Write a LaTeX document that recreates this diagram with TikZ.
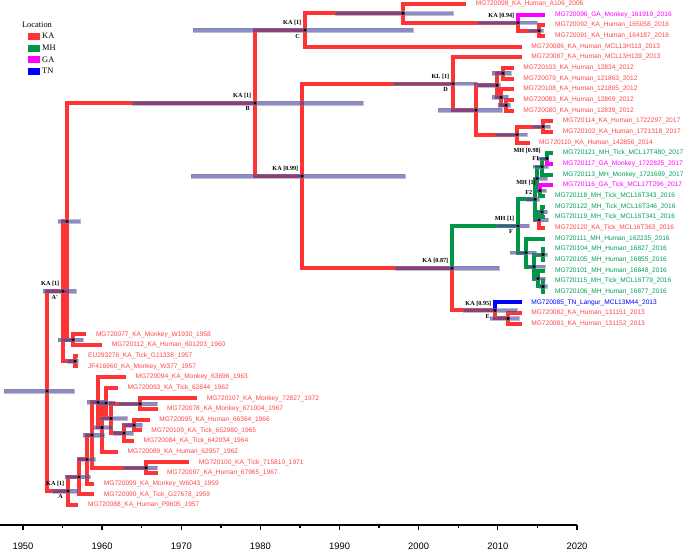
\documentclass[tikz,border=0pt]{standalone}
\usepackage{fontspec}
\newfontfamily\sansf{Liberation Sans}
\newfontfamily\serff{Liberation Serif}
\usetikzlibrary{calc}
\definecolor{kared}{RGB}{255,51,51}
\definecolor{katext}{RGB}{255,70,70}
\definecolor{mhgreen}{RGB}{0,150,72}
\definecolor{mhtext}{RGB}{0,160,90}
\definecolor{gamag}{RGB}{255,0,255}
\definecolor{tnblue}{RGB}{0,0,255}
\definecolor{hpdblue}{RGB}{70,70,175}
\newcommand\tipnode[5]{\coordinate (#1) at (#2,#3);\node[tiplab,text=#4] (#1l) at ([xshift=9.5pt]#1) {#5};}
\newcommand\brn[3]{\draw[#1] (#2) |- (#3);}
\newcommand\hpdbar[3]{\path[hpd] let \p1=(#1) in (#2pt,\y1-1.8pt) rectangle (#3pt,\y1+1.8pt);}
\newcommand\ndot[1]{\fill (#1) circle (1.6pt);}
\newcommand\suplabel[2]{\node[suplab] (#1s) at ([xshift=-3.5pt,yshift=7pt]#1) {#2};}
\newcommand\namelabel[2]{\node[suplab] (#1n) at ([xshift=-5pt,yshift=-6pt]#1) {#2};}
\begin{document}
\begin{tikzpicture}[x=1pt,y=-1pt,
  br/.style={line width=4pt,line join=miter},
  kab/.style={br,draw=kared},
  mhb/.style={br,draw=mhgreen},
  gab/.style={br,draw=gamag},
  tnb/.style={br,draw=tnblue},
  hpd/.style={fill=hpdblue,fill opacity=0.62,draw=gray,draw opacity=0.5,line width=0.4pt},
  tiplab/.style={anchor=west,inner sep=0pt,font=\sansf\fontsize{6.6}{7}\selectfont},
  suplab/.style={anchor=east,inner sep=0pt,font=\serff\bfseries\fontsize{6.2}{7}\selectfont},
  yearlab/.style={inner sep=0pt,font=\sansf\fontsize{9.4}{10}\selectfont},
  leglab/.style={anchor=west,inner sep=0pt,font=\serff\fontsize{8.4}{9}\selectfont}]
\useasboundingbox (0,0) rectangle (685,550);

% ---------- tips ----------
\tipnode{t0}{466.2}{4.0}{katext}{MG720098\_KA\_Human\_A106\_2006}
\tipnode{t1}{545.3}{14.66}{gamag}{MG720096\_GA\_Monkey\_161919\_2016}
\tipnode{t2}{545.3}{25.32}{katext}{MG720092\_KA\_Human\_165058\_2016}
\tipnode{t3}{545.3}{35.98}{katext}{MG720091\_KA\_Human\_164187\_2016}
\tipnode{t4}{521.6}{46.64}{katext}{MG720086\_KA\_Human\_MCL13H113\_2013}
\tipnode{t5}{521.6}{57.3}{katext}{MG720087\_KA\_Human\_MCL13H139\_2013}
\tipnode{t6}{513.7}{67.96}{katext}{MG720103\_KA\_Human\_12834\_2012}
\tipnode{t7}{513.7}{78.62}{katext}{MG720079\_KA\_Human\_121863\_2012}
\tipnode{t8}{513.7}{89.28}{katext}{MG720108\_KA\_Human\_121865\_2012}
\tipnode{t9}{513.7}{99.94}{katext}{MG720083\_KA\_Human\_12869\_2012}
\tipnode{t10}{513.7}{110.6}{katext}{MG720080\_KA\_Human\_12839\_2012}
\tipnode{t11}{553.2}{121.26}{katext}{MG720114\_KA\_Human\_1722297\_2017}
\tipnode{t12}{553.2}{131.92}{katext}{MG720102\_KA\_Human\_1721318\_2017}
\tipnode{t13}{529.5}{142.58}{katext}{MG720110\_KA\_Human\_142856\_2014}
\tipnode{t14}{553.2}{153.24}{mhtext}{MG720121\_MH\_Tick\_MCL17T480\_2017}
\tipnode{t15}{553.2}{163.9}{gamag}{MG720117\_GA\_Monkey\_1722825\_2017}
\tipnode{t16}{553.2}{174.56}{mhtext}{MG720113\_MH\_Monkey\_1721699\_2017}
\tipnode{t17}{553.2}{185.22}{gamag}{MG720116\_GA\_Tick\_MCL17T296\_2017}
\tipnode{t18}{545.3}{195.88}{mhtext}{MG720118\_MH\_Tick\_MCL16T343\_2016}
\tipnode{t19}{545.3}{206.54}{mhtext}{MG720122\_MH\_Tick\_MCL16T346\_2016}
\tipnode{t20}{545.3}{217.2}{mhtext}{MG720119\_MH\_Tick\_MCL16T341\_2016}
\tipnode{t21}{545.3}{227.86}{katext}{MG720120\_KA\_Tick\_MCL16T363\_2016}
\tipnode{t22}{545.3}{238.52}{mhtext}{MG720111\_MH\_Human\_162235\_2016}
\tipnode{t23}{545.3}{249.18}{mhtext}{MG720104\_MH\_Human\_16827\_2016}
\tipnode{t24}{545.3}{259.84}{mhtext}{MG720105\_MH\_Human\_16855\_2016}
\tipnode{t25}{545.3}{270.5}{mhtext}{MG720101\_MH\_Human\_16848\_2016}
\tipnode{t26}{545.3}{281.16}{mhtext}{MG720115\_MH\_Tick\_MCL16T79\_2016}
\tipnode{t27}{545.3}{291.82}{mhtext}{MG720106\_MH\_Human\_16877\_2016}
\tipnode{t28}{521.6}{302.48}{tnblue}{MG720085\_TN\_Langur\_MCL13M44\_2013}
\tipnode{t29}{521.6}{313.14}{katext}{MG720082\_KA\_Human\_131151\_2013}
\tipnode{t30}{521.6}{323.8}{katext}{MG720081\_KA\_Human\_131152\_2013}
\tipnode{t31}{86.3}{334.46}{katext}{MG720077\_KA\_Monkey\_W1930\_1958}
\tipnode{t32}{102.1}{345.12}{katext}{MG720112\_KA\_Human\_601203\_1960}
\tipnode{t33}{78.4}{355.78}{katext}{EU293276\_KA\_Tick\_G11338\_1957}
\tipnode{t34}{78.4}{366.44}{katext}{JF416960\_KA\_Monkey\_W377\_1957}
\tipnode{t35}{125.9}{377.1}{katext}{MG720094\_KA\_Monkey\_63696\_1963}
\tipnode{t36}{118.0}{387.76}{katext}{MG720093\_KA\_Tick\_62844\_1962}
\tipnode{t37}{197.1}{398.42}{katext}{MG720107\_KA\_Monkey\_72827\_1972}
\tipnode{t38}{157.5}{409.08}{katext}{MG720078\_KA\_Monkey\_671004\_1967}
\tipnode{t39}{149.6}{419.74}{katext}{MG720095\_KA\_Human\_66364\_1966}
\tipnode{t40}{141.7}{430.4}{katext}{MG720109\_KA\_Tick\_652980\_1965}
\tipnode{t41}{133.8}{441.06}{katext}{MG720084\_KA\_Tick\_642034\_1964}
\tipnode{t42}{118.0}{451.72}{katext}{MG720089\_KA\_Human\_62957\_1962}
\tipnode{t43}{189.2}{462.38}{katext}{MG720100\_KA\_Tick\_715810\_1971}
\tipnode{t44}{157.5}{473.04}{katext}{MG720097\_KA\_Human\_67965\_1967}
\tipnode{t45}{94.2}{483.7}{katext}{MG720099\_KA\_Monkey\_W6043\_1959}
\tipnode{t46}{94.2}{494.36}{katext}{MG720090\_KA\_Tick\_G27678\_1959}
\tipnode{t47}{78.4}{505.02}{katext}{MG720088\_KA\_Human\_P9605\_1957}

% ---------- internal nodes ----------
\coordinate (S) at (539,30.65);
\coordinate (R) at (518,22.66);
\coordinate (Q) at (403,13.33);
\coordinate (C) at (305,29.99);
\coordinate (X2a) at (503,73.29);
\coordinate (X4) at (506,105.27);
\coordinate (X3) at (501,97.28);
\coordinate (X2) at (497,85.28);
\coordinate (Z) at (543,126.59);
\coordinate (Y1) at (517,134.59);
\coordinate (W) at (476,109.94);
\coordinate (D) at (453,83.62);
\coordinate (P1) at (547,158.57);
\coordinate (F1) at (542,166.57);
\coordinate (Pg) at (540,190.55);
\coordinate (K2) at (537,178.56);
\coordinate (N2) at (542,211.87);
\coordinate (N) at (539,219.87);
\coordinate (U1) at (535,199.21);
\coordinate (Lp) at (543,254.51);
\coordinate (T2) at (543,286.49);
\coordinate (T) at (538,278.5);
\coordinate (L3) at (534,266.5);
\coordinate (L) at (526,252.51);
\coordinate (F) at (518,225.86);
\coordinate (E2) at (508,318.47);
\coordinate (E) at (495,310.48);
\coordinate (G) at (452,268.17);
\coordinate (U) at (302,175.9);
\coordinate (B) at (255,102.94);
\coordinate (Q1) at (73,339.79);
\coordinate (Q2) at (75,361.11);
\coordinate (n3738) at (140,403.75);
\coordinate (n3940) at (134,425.07);
\coordinate (n3941) at (124,433.07);
\coordinate (n3741) at (111,418.41);
\coordinate (n3641) at (106,403.09);
\coordinate (n3642) at (102,427.4);
\coordinate (n3542) at (98,402.25);
\coordinate (n4344) at (146,467.71);
\coordinate (A3) at (92,434.98);
\coordinate (A2) at (87,459.34);
\coordinate (A1) at (79,476.85);
\coordinate (A) at (68,490.94);
\coordinate (P) at (67,221.37);
\coordinate (Ap) at (63,291.24);
\coordinate (root) at (47,391.09);

% ---------- branches ----------
\brn{kab}{root}{Ap} \brn{kab}{root}{A}
\brn{kab}{Ap}{P} \brn{kab}{Ap}{Q2}
\brn{kab}{P}{B} \brn{kab}{P}{Q1}
\brn{kab}{Q1}{t31} \brn{kab}{Q1}{t32}
\brn{kab}{Q2}{t33} \brn{kab}{Q2}{t34}
\brn{kab}{A}{A1} \brn{kab}{A}{t47}
\brn{kab}{A1}{A2} \brn{kab}{A1}{t46}
\brn{kab}{A2}{A3} \brn{kab}{A2}{t45}
\brn{kab}{A3}{n3542} \brn{kab}{A3}{n4344}
\brn{kab}{n3542}{t35} \brn{kab}{n3542}{n3642}
\brn{kab}{n3642}{n3641} \brn{kab}{n3642}{t42}
\brn{kab}{n3641}{t36} \brn{kab}{n3641}{n3741}
\brn{kab}{n3741}{n3738} \brn{kab}{n3741}{n3941}
\brn{kab}{n3738}{t37} \brn{kab}{n3738}{t38}
\brn{kab}{n3941}{n3940} \brn{kab}{n3941}{t41}
\brn{kab}{n3940}{t39} \brn{kab}{n3940}{t40}
\brn{kab}{n4344}{t43} \brn{kab}{n4344}{t44}
\brn{kab}{B}{C} \brn{kab}{B}{U}
\brn{kab}{C}{Q} \brn{kab}{C}{t4}
\brn{kab}{Q}{t0} \brn{kab}{Q}{R}
\brn{gab}{R}{t1} \brn{kab}{R}{S}
\brn{kab}{S}{t2} \brn{kab}{S}{t3}
\brn{kab}{U}{D} \brn{kab}{U}{G}
\brn{kab}{D}{t5} \brn{kab}{D}{W}
\brn{kab}{W}{X2} \brn{kab}{W}{Y1}
\brn{kab}{X2}{X2a} \brn{kab}{X2}{X3}
\brn{kab}{X2a}{t6} \brn{kab}{X2a}{t7}
\brn{kab}{X3}{t8} \brn{kab}{X3}{X4}
\brn{kab}{X4}{t9} \brn{kab}{X4}{t10}
\brn{kab}{Y1}{Z} \brn{kab}{Y1}{t13}
\brn{kab}{Z}{t11} \brn{kab}{Z}{t12}
\brn{kab}{G}{E}
\brn{tnb}{E}{t28} \brn{kab}{E}{E2}
\brn{kab}{E2}{t29} \brn{kab}{E2}{t30}
\brn{mhb}{G}{F}
\brn{mhb}{F}{U1} \brn{mhb}{F}{L}
\brn{mhb}{U1}{K2} \brn{mhb}{U1}{N}
\brn{mhb}{K2}{F1} \brn{mhb}{K2}{Pg}
\brn{mhb}{F1}{P1} \brn{mhb}{F1}{t16}
\brn{mhb}{P1}{t14} \brn{gab}{P1}{t15}
\brn{gab}{Pg}{t17} \brn{mhb}{Pg}{t18}
\brn{mhb}{N}{N2} \brn{kab}{N}{t21}
\brn{mhb}{N2}{t19} \brn{mhb}{N2}{t20}
\brn{mhb}{L}{t22} \brn{mhb}{L}{L3}
\brn{mhb}{L3}{Lp} \brn{mhb}{L3}{T}
\brn{mhb}{Lp}{t23} \brn{mhb}{Lp}{t24}
\brn{mhb}{T}{t25} \brn{mhb}{T}{T2}
\brn{mhb}{T2}{t26} \brn{mhb}{T2}{t27}

% ---------- HPD bars ----------
\hpdbar{root}{4}{74}
\hpdbar{Ap}{43}{76}
\hpdbar{P}{58}{80}
\hpdbar{Q1}{58}{83}
\hpdbar{Q2}{67}{78}
\hpdbar{A}{52}{78}
\hpdbar{A1}{65}{90}
\hpdbar{A2}{77}{95}
\hpdbar{A3}{83}{104}
\hpdbar{n3542}{87}{106}
\hpdbar{n3641}{97}{115}
\hpdbar{n3642}{93}{112}
\hpdbar{n3741}{100}{127}
\hpdbar{n3738}{118}{157}
\hpdbar{n3941}{113}{133}
\hpdbar{n3940}{123}{142}
\hpdbar{n4344}{123}{157}
\hpdbar{B}{132}{363}
\hpdbar{C}{193}{413}
\hpdbar{Q}{335}{453}
\hpdbar{R}{477}{537}
\hpdbar{S}{528}{543}
\hpdbar{U}{191}{405}
\hpdbar{D}{393}{477}
\hpdbar{W}{438}{502}
\hpdbar{X2}{477}{500}
\hpdbar{X2a}{492}{511}
\hpdbar{X3}{492}{508}
\hpdbar{X4}{498}{510}
\hpdbar{Y1}{495}{527}
\hpdbar{Z}{532}{550}
\hpdbar{G}{395}{499}
\hpdbar{E}{463}{517}
\hpdbar{E2}{490}{519}
\hpdbar{F}{496}{529}
\hpdbar{U1}{526}{539}
\hpdbar{K2}{533}{547}
\hpdbar{F1}{533}{548}
\hpdbar{P1}{537}{548}
\hpdbar{Pg}{536}{546}
\hpdbar{N2}{538}{547}
\hpdbar{N}{533}{548}
\hpdbar{L}{510}{536}
\hpdbar{Lp}{538}{547}
\hpdbar{L3}{529}{545}
\hpdbar{T}{534}{545}
\hpdbar{T2}{539}{547}

% ---------- node dots ----------
\foreach \nd in {root,Ap,P,Q1,Q2,A,A1,A2,A3,n3542,n3641,n3642,n3741,n3738,n3941,n3940,n4344,
  B,C,Q,R,S,U,D,W,X2,X2a,X3,X4,Y1,Z,G,E,E2,F,U1,K2,F1,P1,Pg,N2,N,L,Lp,L3,T,T2}{\ndot{\nd}}

% ---------- support / clade labels ----------
\suplabel{Ap}{KA [1]} \namelabel{Ap}{A'}
\suplabel{A}{KA [1]} \namelabel{A}{A}
\suplabel{B}{KA [1]} \namelabel{B}{B}
\suplabel{C}{KA [1]} \namelabel{C}{C}
\suplabel{U}{KA [0.99]}
\suplabel{D}{KL [1]} \namelabel{D}{D}
\suplabel{R}{KA [0.94]}
\suplabel{G}{KA [0.87]}
\suplabel{F}{MH [1]} \namelabel{F}{F}
\suplabel{E}{KA [0.95]} \namelabel{E}{E}
\node[suplab] (F1s) at (541,151) {MH [0.98]};
\node[suplab] (F1n) at (539.5,158.5) {F1};
\node[suplab] (F2s) at (536,183) {MH [1]};
\node[suplab] (F2n) at (532.5,192) {F2};

% ---------- legend ----------
\node[inner sep=0pt,font=\serff\fontsize{8.4}{9}\selectfont] (legt) at (37,25) {Location};
\fill[kared] (28,32.5) rectangle (40,39.5);
\fill[mhgreen] (28,44.5) rectangle (40,51.5);
\fill[gamag] (28,56) rectangle (40,63);
\fill[tnblue] (28,67.5) rectangle (40,74.5);
\node[leglab] (legka) at (42,36) {KA};
\node[leglab] (legmh) at (42,48) {MH};
\node[leglab] (legga) at (42,59.5) {GA};
\node[leglab] (legtn) at (42,71) {TN};

% ---------- time axis ----------
\coordinate (axL) at (0,525);
\coordinate (axR) at (577,525);
\draw[line width=1.3pt] (axL) -- (axR);
\foreach \k in {0,...,14}{
  \pgfmathsetmacro\tx{23+39.57*\k}
  \ifodd\k
    \draw[line width=1.3pt] (\tx,525) -- (\tx,527.5);
  \else
    \draw[line width=1.3pt] (\tx,525) -- (\tx,529.5);
  \fi
}
\foreach \yy/\xx in {1950/23,1960/102.1,1970/181.3,1980/260.4,1990/339.6,2000/418.7,2010/497.8,2020/577}{
  \node[yearlab] (yr\yy) at (\xx,546) {\yy};
}
\end{tikzpicture}
\end{document}
